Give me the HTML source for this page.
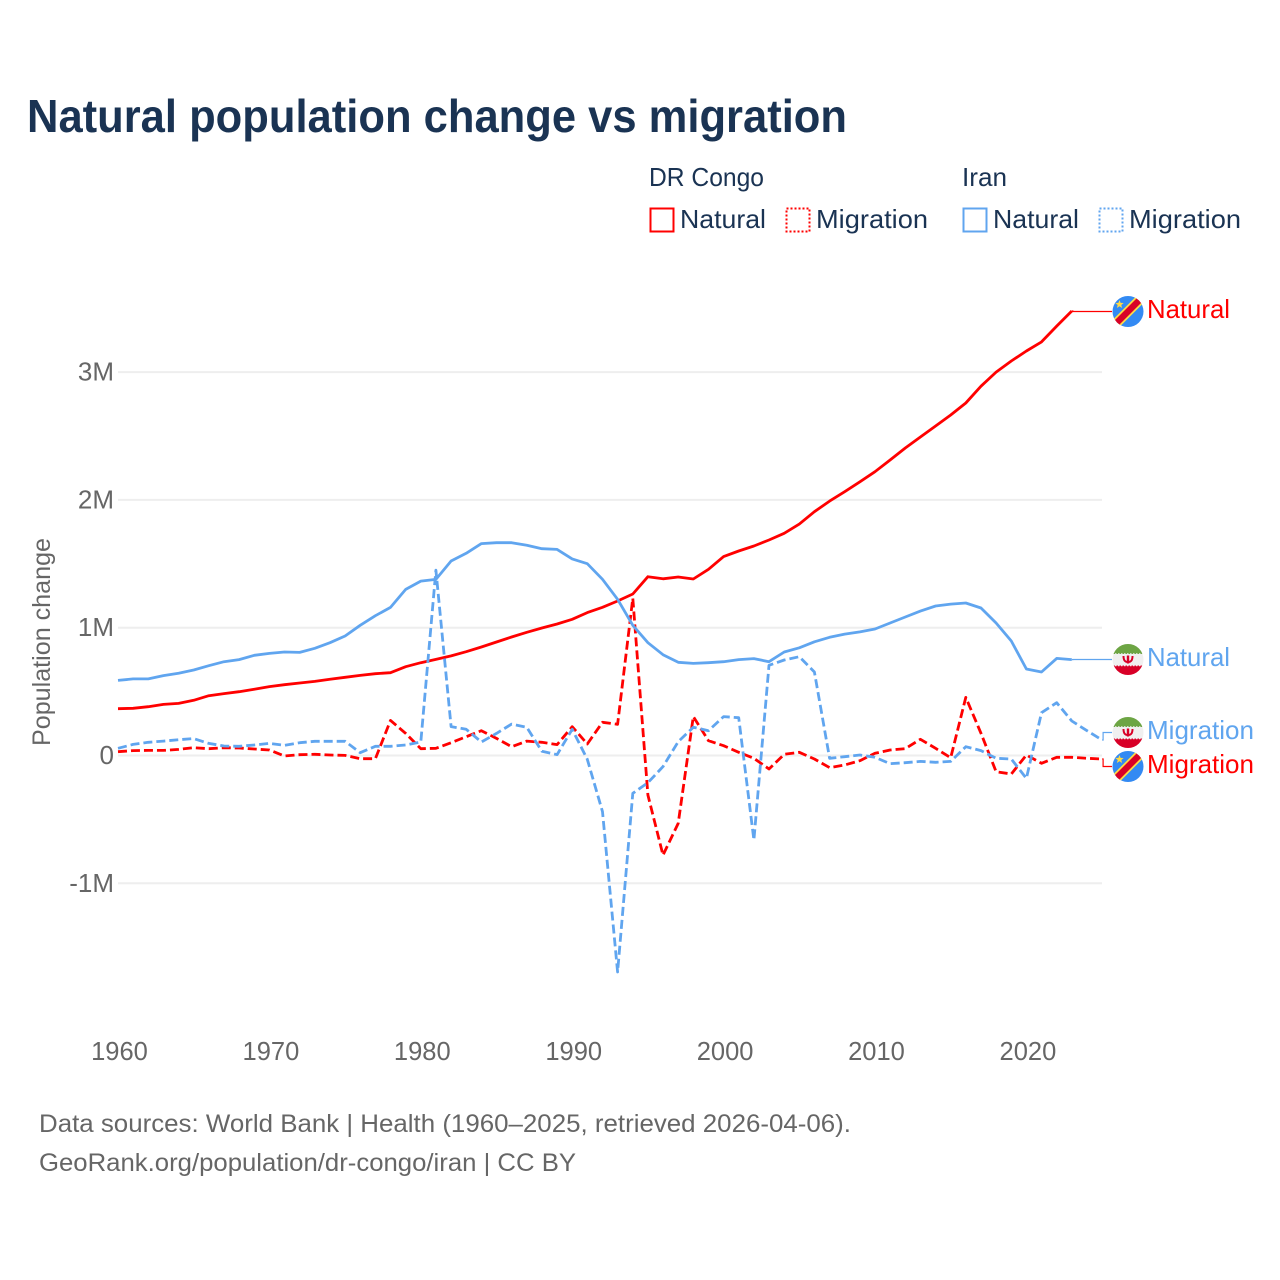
<!DOCTYPE html>
<html lang="en">
<head>
<meta charset="utf-8">
<title>Natural population change vs migration</title>
<style>
html,body{margin:0;padding:0;background:#fff;}
svg{display:block;}
text{font-family:"Liberation Sans",sans-serif;}
</style>
</head>
<body>
<svg id="chart" width="1280" height="1280" viewBox="0 0 1280 1280" xmlns="http://www.w3.org/2000/svg">
  <defs>
    <clipPath id="flag-clip"><circle cx="0" cy="0" r="15.5"/></clipPath>
    <g id="flag-drc">
      <g clip-path="url(#flag-clip)">
        <rect x="-16" y="-16" width="32" height="32" fill="#338af3"/>
        <polygon points="-24,17 17,-24 24,-17 -17,24" fill="#ffda44"/>
        <polygon points="-22,17.5 17.5,-22 22,-17.5 -17.5,22" fill="#d80027"/>
        <polygon points="-8.5,-11.5 -7.4,-8.6 -4.3,-8.5 -6.7,-6.5 -5.9,-3.5 -8.5,-5.2 -11.1,-3.5 -10.3,-6.5 -12.7,-8.5 -9.6,-8.6" fill="#ffda44"/>
      </g>
    </g>
    <g id="flag-iran">
      <g clip-path="url(#flag-clip)">
        <rect x="-16" y="-16" width="32" height="32" fill="#f0f0f0"/>
        <rect x="-16" y="-16" width="32" height="10.5" fill="#6da544"/>
        <rect x="-16" y="6" width="32" height="10.5" fill="#d80027"/>
        <line x1="-16" x2="16" y1="-5.5" y2="-5.5" stroke="#f0f0f0" stroke-width="1.5" stroke-dasharray="1.5 1.5"/>
        <line x1="-16" x2="16" y1="6" y2="6" stroke="#f0f0f0" stroke-width="1.5" stroke-dasharray="1.5 1.5"/>
        <path d="M-4.5,-3.5 C-4.5,2 -2,2.5 0,2.5 C2,2.5 4.5,2 4.5,-3.5" fill="none" stroke="#d80027" stroke-width="2"/>
        <path d="M0,-4 L0,4" fill="none" stroke="#d80027" stroke-width="2.4"/>
      </g>
    </g>
  </defs>

  <text x="27" y="132" font-size="46" font-weight="700" fill="#1a3353" textLength="820" lengthAdjust="spacingAndGlyphs">Natural population change vs migration</text>

  <g fill="#1a3353" font-size="26">
    <text x="649" y="186" textLength="115" lengthAdjust="spacingAndGlyphs">DR Congo</text>
    <text x="962" y="186" textLength="45" lengthAdjust="spacingAndGlyphs">Iran</text>

    <rect x="650.5" y="208.5" width="23" height="23" fill="none" stroke="#ff0000" stroke-width="2"/>
    <text x="680" y="228" textLength="86" lengthAdjust="spacingAndGlyphs">Natural</text>

    <rect x="786.5" y="208.5" width="23" height="23" fill="none" stroke="#ff0000" stroke-width="2" stroke-dasharray="2 2"/>
    <text x="816" y="228" textLength="112" lengthAdjust="spacingAndGlyphs">Migration</text>

    <rect x="963.5" y="208.5" width="23" height="23" fill="none" stroke="#60a5ef" stroke-width="2"/>
    <text x="993" y="228" textLength="86" lengthAdjust="spacingAndGlyphs">Natural</text>

    <rect x="1099.5" y="208.5" width="23" height="23" fill="none" stroke="#60a5ef" stroke-width="2" stroke-dasharray="2 2"/>
    <text x="1129" y="228" textLength="112" lengthAdjust="spacingAndGlyphs">Migration</text>
  </g>

  <text transform="translate(50,746) rotate(-90)" font-size="25" fill="#666666" textLength="208" lengthAdjust="spacingAndGlyphs">Population change</text>

  <g id="grid"></g>
  <g id="y-ticks"></g>
  <g id="x-ticks"></g>
  <g id="series"></g>

  <g font-size="26">
    <use href="#flag-drc" x="1128" y="311.5"/>
    <text x="1147" y="318" fill="#ff0000" textLength="83" lengthAdjust="spacingAndGlyphs">Natural</text>
    <use href="#flag-iran" x="1128" y="659.5"/>
    <text x="1147" y="666" fill="#60a5ef" textLength="83" lengthAdjust="spacingAndGlyphs">Natural</text>
    <use href="#flag-iran" x="1128" y="732.5"/>
    <text x="1147" y="739" fill="#60a5ef" textLength="107" lengthAdjust="spacingAndGlyphs">Migration</text>
    <use href="#flag-drc" x="1128" y="766.5"/>
    <text x="1147" y="773" fill="#ff0000" textLength="107" lengthAdjust="spacingAndGlyphs">Migration</text>
  </g>

  <g font-size="25" fill="#666666">
    <text x="39" y="1132" textLength="812" lengthAdjust="spacingAndGlyphs">Data sources: World Bank | Health (1960–2025, retrieved 2026-04-06).</text>
    <text x="39" y="1171" textLength="537" lengthAdjust="spacingAndGlyphs">GeoRank.org/population/dr-congo/iran | CC BY</text>
  </g>
</svg>

<script>
const years = [1960,1961,1962,1963,1964,1965,1966,1967,1968,1969,1970,1971,1972,1973,1974,1975,1976,1977,1978,1979,1980,1981,1982,1983,1984,1985,1986,1987,1988,1989,1990,1991,1992,1993,1994,1995,1996,1997,1998,1999,2000,2001,2002,2003,2004,2005,2006,2007,2008,2009,2010,2011,2012,2013,2014,2015,2016,2017,2018,2019,2020,2021,2022,2023,2024,2025];
const xTickYears = [1960,1970,1980,1990,2000,2010,2020];
const yTickValues = [-1,0,1,2,3];
const yTickLabels = ["-1M","0","1M","2M","3M"];

const drcNatural = [0.366,0.369,0.382,0.400,0.408,0.432,0.468,0.484,0.499,0.518,0.539,0.554,0.567,0.580,0.596,0.612,0.627,0.640,0.648,0.695,0.726,0.752,0.779,0.812,0.849,0.888,0.927,0.964,0.998,1.029,1.066,1.118,1.160,1.209,1.264,1.399,1.383,1.397,1.381,1.457,1.556,1.600,1.639,1.686,1.739,1.811,1.908,1.991,2.064,2.142,2.221,2.312,2.406,2.492,2.578,2.664,2.758,2.890,3.000,3.087,3.165,3.236,3.360,3.478];
const iranNatural = [0.588,0.599,0.599,0.625,0.643,0.669,0.703,0.734,0.750,0.784,0.799,0.810,0.807,0.839,0.883,0.935,1.019,1.094,1.159,1.300,1.365,1.378,1.522,1.582,1.658,1.665,1.665,1.645,1.618,1.613,1.538,1.501,1.379,1.222,1.019,0.883,0.789,0.729,0.721,0.726,0.734,0.750,0.758,0.734,0.810,0.843,0.890,0.925,0.950,0.967,0.990,1.037,1.084,1.130,1.170,1.185,1.193,1.154,1.037,0.896,0.677,0.653,0.760,0.750];
const drcMigration = [0.030,0.038,0.040,0.040,0.048,0.061,0.053,0.061,0.059,0.051,0.043,-0.004,0.006,0.009,0.004,0.001,-0.025,-0.025,0.275,0.173,0.053,0.056,0.100,0.147,0.194,0.134,0.069,0.113,0.103,0.085,0.225,0.090,0.260,0.244,1.230,-0.309,-0.779,-0.531,0.304,0.116,0.077,0.025,-0.022,-0.106,0.009,0.025,-0.027,-0.095,-0.074,-0.041,0.017,0.043,0.053,0.127,0.056,-0.017,0.455,0.174,-0.127,-0.145,0.004,-0.061,-0.014,-0.014,-0.022,-0.027];
const iranMigration = [0.056,0.087,0.103,0.113,0.124,0.132,0.095,0.074,0.072,0.082,0.095,0.080,0.100,0.111,0.111,0.111,0.022,0.072,0.072,0.082,0.106,1.451,0.226,0.205,0.106,0.173,0.246,0.221,0.033,0.007,0.205,-0.030,-0.440,-1.694,-0.296,-0.213,-0.087,0.108,0.221,0.194,0.304,0.296,-0.661,0.706,0.747,0.773,0.653,-0.022,-0.009,0.004,-0.014,-0.064,-0.056,-0.046,-0.053,-0.046,0.069,0.038,-0.022,-0.027,-0.179,0.335,0.413,0.270,0.194,0.121];

const NS = "http://www.w3.org/2000/svg";
function xScale(year){ return 118 + (year - 1960) * 15.14; }
function yScale(v){ return 755.5 - v * 127.8; }

const grid = document.getElementById("grid");
const yTicksG = document.getElementById("y-ticks");
yTickValues.forEach(function(v, i){
  const line = document.createElementNS(NS, "line");
  line.setAttribute("x1", 118);
  line.setAttribute("x2", 1102);
  line.setAttribute("y1", yScale(v));
  line.setAttribute("y2", yScale(v));
  line.setAttribute("stroke", "#eeeeee");
  line.setAttribute("stroke-width", "2");
  
  
  grid.appendChild(line);

  const t = document.createElementNS(NS, "text");
  t.setAttribute("x", 114);
  t.setAttribute("y", yScale(v) + 8.5);
  t.setAttribute("text-anchor", "end");
  t.setAttribute("font-size", "26");
  t.setAttribute("fill", "#666666");
  
  
  t.textContent = yTickLabels[i];
  yTicksG.appendChild(t);
});

const xTicksG = document.getElementById("x-ticks");
xTickYears.forEach(function(y){
  const t = document.createElementNS(NS, "text");
  t.setAttribute("x", xScale(y) + 1.5);
  t.setAttribute("y", 1060);
  t.setAttribute("text-anchor", "middle");
  t.setAttribute("font-size", "25.5");
  t.setAttribute("fill", "#666666");
  
  
  t.textContent = String(y);
  xTicksG.appendChild(t);
});

const seriesG = document.getElementById("series");
function drawSeries(values, color, dashed, labelY, seriesName){
  const pts = values.map(function(v, i){ return xScale(years[i]).toFixed(1) + "," + yScale(v).toFixed(1); });
  const path = document.createElementNS(NS, "polyline");
  path.setAttribute("points", pts.join(" "));
  path.setAttribute("fill", "none");
  path.setAttribute("stroke", color);
  path.setAttribute("stroke-width", "2.8");
  path.setAttribute("stroke-linejoin", "round");
  if (dashed) path.setAttribute("stroke-dasharray", "9 4");
  
  
  seriesG.appendChild(path);

  const lastX = xScale(years[values.length - 1]);
  const lastY = yScale(values[values.length - 1]);
  const conn = document.createElementNS(NS, "polyline");
  conn.setAttribute("points", lastX + "," + lastY + " " + (lastX + 1) + "," + lastY + " " + (lastX + 1) + "," + labelY + " 1112," + labelY);
  conn.setAttribute("fill", "none");
  conn.setAttribute("stroke", color);
  conn.setAttribute("stroke-width", "1.2");
  
  
  seriesG.appendChild(conn);
}
drawSeries(drcNatural, "#ff0000", false, 311.5, "line-drc-natural");
drawSeries(drcMigration, "#ff0000", true, 766.5, "line-drc-migration");
drawSeries(iranNatural, "#60a5ef", false, 659.5, "line-iran-natural");
drawSeries(iranMigration, "#60a5ef", true, 732.5, "line-iran-migration");
</script>
</body>
</html>
